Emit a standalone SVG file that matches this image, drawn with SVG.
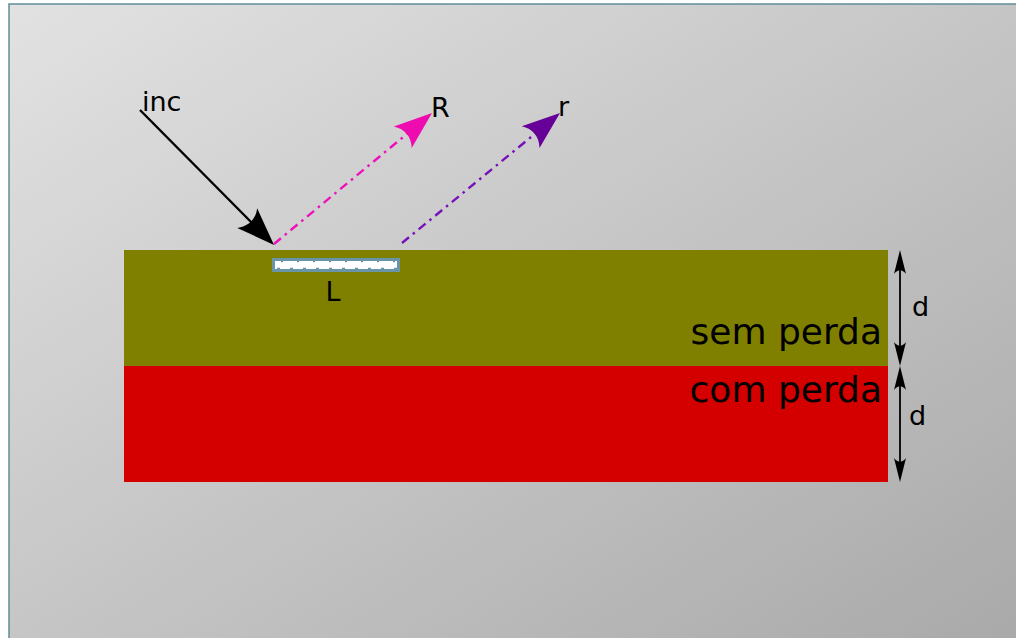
<svg xmlns="http://www.w3.org/2000/svg" width="1016" height="638" viewBox="0 0 1016 638">
<defs>
<linearGradient id="bg" x1="0" y1="0" x2="1" y2="1">
<stop offset="0" stop-color="#e2e2e2"/>
<stop offset="1" stop-color="#a9a9a9"/>
</linearGradient>
<path id="headBig" d="M0,0 L-38,-14 C-31,-5 -31,5 -38,14 Z"/>
<path id="headSmall" d="M0,0 L-24,-6 C-19,-2 -19,2 -24,6 Z"/>
<style>
text{font-family:"DejaVu Sans","Liberation Sans",sans-serif;fill:#000}
.lbl{font-size:27px}
.big{font-size:36px}
.ray{fill:none;stroke-width:2.4}
.dd{stroke-dasharray:9,5,2.5,5}
</style>
</defs>
<rect x="0" y="0" width="1016" height="638" fill="#fff"/>
<rect x="9" y="4" width="1010" height="640" fill="url(#bg)" stroke="#5f8d9c" stroke-width="1.5"/>
<g id="layer-sem-perda">
<rect x="124" y="250" width="764" height="116" fill="#808000"/>
<text class="big" x="882" y="344" text-anchor="end">sem perda</text>
</g>
<g id="layer-com-perda">
<rect x="124" y="366" width="764" height="116" fill="#d40000"/>
<text class="big" x="882" y="402" text-anchor="end">com perda</text>
</g>
<g id="L">
<rect x="272" y="258" width="128" height="14" fill="#6a95a8"/>
<rect x="275" y="261" width="122" height="8" fill="#fff"/>
<line x1="275" y1="261.5" x2="397" y2="261.5" stroke="#6a95a8" stroke-width="1.5" stroke-dasharray="2,14" stroke-dashoffset="-6"/>
<line x1="275" y1="268.5" x2="397" y2="268.5" stroke="#6a95a8" stroke-width="1.5" stroke-dasharray="3,10" stroke-dashoffset="-2"/>
<text class="lbl" x="333" y="301" text-anchor="middle">L</text>
</g>
<g id="connectors">
<line class="ray" x1="140" y1="110" x2="254" y2="225" stroke="#000"/>
<use href="#headBig" transform="translate(274,245) rotate(45.2)" fill="#000"/>
<line class="ray dd" x1="274" y1="244" x2="408" y2="133" stroke="#ee11bb"/>
<use href="#headBig" transform="translate(432,113) rotate(-39.7)" fill="#ee0cb0"/>
<line class="ray dd" x1="402" y1="243" x2="536" y2="133" stroke="#7711bb"/>
<use href="#headBig" transform="translate(560,113) rotate(-39.4)" fill="#660099"/>
<line x1="900" y1="262" x2="900" y2="354" stroke="#000" stroke-width="1.8"/>
<use href="#headSmall" transform="translate(900,250) rotate(-90)" fill="#000"/>
<use href="#headSmall" transform="translate(900,366) rotate(90)" fill="#000"/>
<line x1="900" y1="378" x2="900" y2="470" stroke="#000" stroke-width="1.8"/>
<use href="#headSmall" transform="translate(900,366) rotate(-90)" fill="#000"/>
<use href="#headSmall" transform="translate(900,482) rotate(90)" fill="#000"/>
</g>
<g id="labels">
<text class="lbl" x="142" y="111">inc</text>
<text class="lbl" x="431" y="117">R</text>
<text class="lbl" x="558" y="116">r</text>
<text class="lbl" x="912" y="316">d</text>
<text class="lbl" x="909" y="425">d</text>
</g>
</svg>
